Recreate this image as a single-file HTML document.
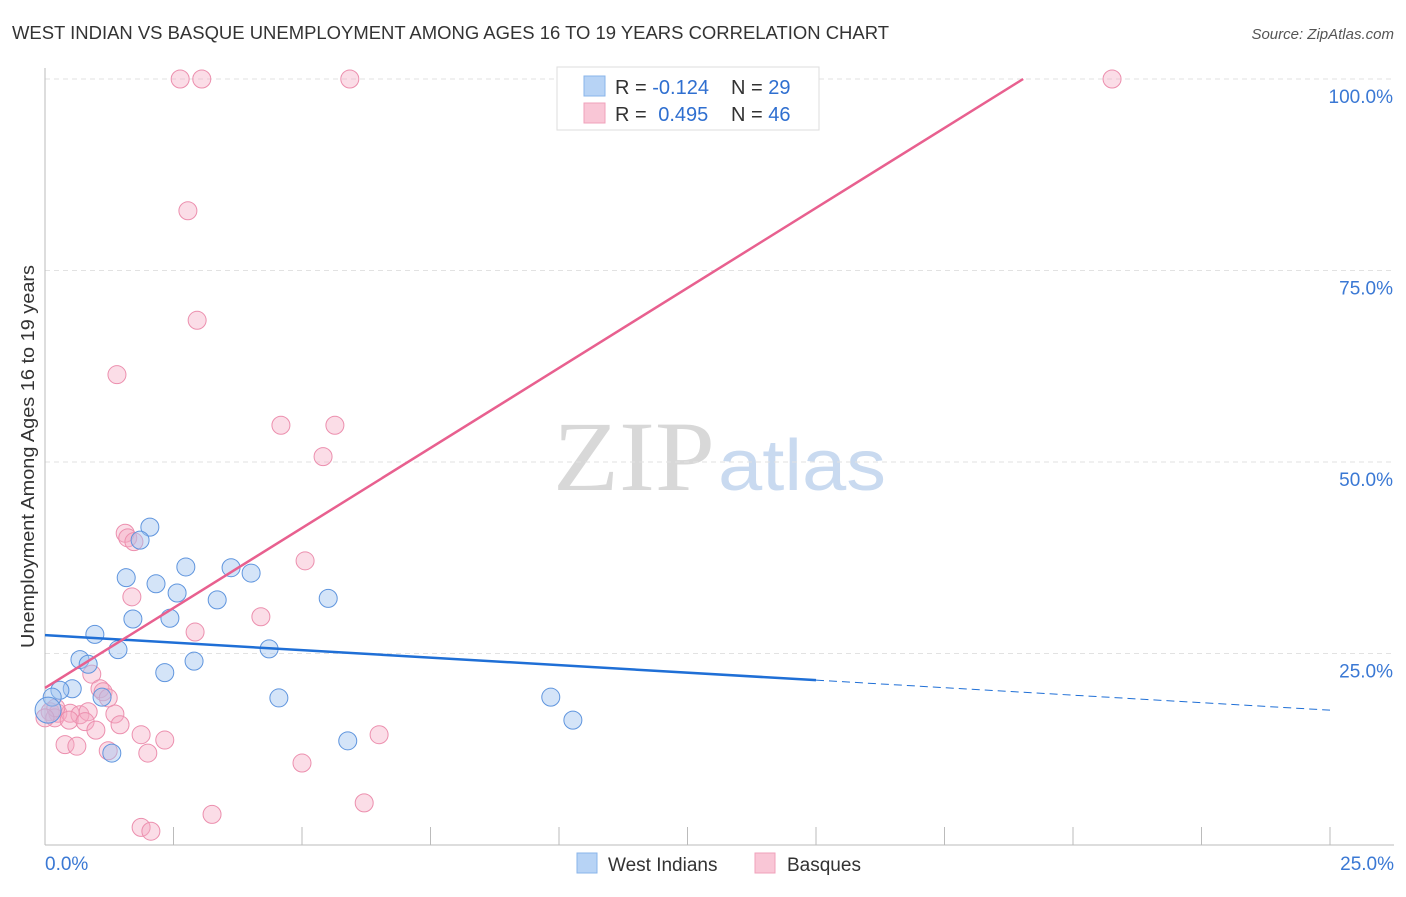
<!DOCTYPE html>
<html><head><meta charset="utf-8"><style>
body{margin:0;background:#fff;font-family:"Liberation Sans",sans-serif;}
</style></head><body>
<svg id="chart" width="1406" height="892" xmlns="http://www.w3.org/2000/svg">
<text x="12" y="39" font-size="18" fill="#333" textLength="877" lengthAdjust="spacingAndGlyphs">WEST INDIAN VS BASQUE UNEMPLOYMENT AMONG AGES 16 TO 19 YEARS CORRELATION CHART</text>
<text x="1394" y="39" font-size="15" fill="#555" font-style="italic" text-anchor="end">Source: ZipAtlas.com</text>
<text transform="translate(34,648) rotate(-90)" font-size="18" fill="#333" textLength="383" lengthAdjust="spacingAndGlyphs">Unemployment Among Ages 16 to 19 years</text>
<g>
<text x="553" y="490" font-family="Liberation Serif,serif" font-size="100" fill="#d8d8d8" textLength="162" lengthAdjust="spacingAndGlyphs">ZIP</text>
<text x="718" y="490" font-size="72" fill="#c9daf0" textLength="168" lengthAdjust="spacingAndGlyphs">atlas</text>
</g>
<g id="grid"></g>
<g id="axes"></g>
<g id="marks"></g>
<g>
<rect x="557" y="67" width="262" height="63" fill="#fff" stroke="#ddd"/>
<rect x="584" y="76" width="21" height="20" fill="#b7d3f5" stroke="#8ab4ea"/>
<rect x="584" y="103" width="21" height="20" fill="#f9c6d6" stroke="#f0a1bb"/>
<text x="615" y="94" font-size="20" fill="#333">R = <tspan fill="#2f6fd0">-0.124</tspan></text>
<text x="731" y="94" font-size="20" fill="#333">N = <tspan fill="#2f6fd0">29</tspan></text>
<text x="615" y="121" font-size="20" fill="#333">R = <tspan fill="#2f6fd0" dx="6">0.495</tspan></text>
<text x="731" y="121" font-size="20" fill="#333">N = <tspan fill="#2f6fd0">46</tspan></text>
</g>
<g>
<rect x="577" y="853" width="20" height="20" fill="#b7d3f5" stroke="#8ab4ea"/>
<text x="608" y="871" font-size="19" fill="#333">West Indians</text>
<rect x="755" y="853" width="20" height="20" fill="#f9c6d6" stroke="#f0a1bb"/>
<text x="787" y="871" font-size="19" fill="#333">Basques</text>
</g>
</svg>
<script>
const yTicks=[25,50,75,100];
const yTickLabels=["25.0%","50.0%","75.0%","100.0%"];
const xTickLabels=["0.0%","25.0%"];
const blueX=[2.04,1.85,1.58,2.74,2.16,3.62,4.01,2.57,3.35,5.51,1.71,2.43,0.97,1.42,4.36,0.68,0.84,2.90,2.33,0.53,0.29,1.11,0.14,4.55,9.84,10.27,5.89,1.30,0.06];
const blueY=[41.5,39.8,34.9,36.3,34.1,36.2,35.5,32.9,32.0,32.2,29.5,29.6,27.5,25.5,25.6,24.2,23.6,24.0,22.5,20.4,20.2,19.3,19.3,19.2,19.3,16.3,13.6,12.0,17.6];
const pinkX=[2.63,3.05,5.93,20.76,2.78,2.96,1.40,4.59,5.64,5.41,1.56,1.61,1.73,5.06,1.69,4.20,2.92,0.91,1.07,1.13,1.23,0.10,0.25,0.19,0.49,0.68,0.84,0.47,0.78,0.99,1.36,1.46,0.39,0.62,1.23,1.87,2.00,2.33,6.50,5.00,3.25,1.87,2.06,6.21,0.21,0.0];
const pinkY=[100,100,100,100,82.8,68.5,61.4,54.8,54.8,50.7,40.7,40.1,39.6,37.1,32.4,29.8,27.8,22.3,20.4,20.0,19.2,17.4,17.2,16.6,17.2,17.0,17.4,16.3,16.1,15.0,17.1,15.7,13.1,12.9,12.3,14.4,12.0,13.7,14.4,10.7,4.0,2.3,1.8,5.5,17.9,16.6];
const blueTrend=[27.4,17.6];
const pinkTrend=[20.5,100];
const pinkTrendEndX=19.03;
const blueSolidEndX=15;

const NS="http://www.w3.org/2000/svg";
const X=v=>45+v/25*1285;
const Y=v=>845-v/100*766;
function mk(tag,attrs,parent){const e=document.createElementNS(NS,tag);for(const k in attrs)e.setAttribute(k,attrs[k]);parent.appendChild(e);return e;}
const grid=document.getElementById('grid'),axes=document.getElementById('axes'),marks=document.getElementById('marks');

yTicks.forEach((t,i)=>{
  const l=mk('line',{x1:45,x2:1394,y1:Y(t),y2:Y(t),stroke:'#e2e2e2','stroke-dasharray':'5,4'},grid);
  
  
  const tx=mk('text',{x:1393,y:Y(t)+24,'font-size':19,fill:'#3a78d4','text-anchor':'end'},axes);
  tx.textContent=yTickLabels[i];
  
  
});
const ax=mk('line',{x1:45,x2:1394,y1:845,y2:845,stroke:'#bbb'},axes);


const ay=mk('line',{x1:45,x2:45,y1:68,y2:845,stroke:'#bbb'},axes);


for(let i=1;i<=10;i++){
  const tk=mk('line',{x1:X(i*2.5),x2:X(i*2.5),y1:827,y2:845,stroke:'#bbb'},axes);
  
  
}
[[0,'start',45],[1,'end',1394]].forEach(([i,a,x])=>{
  const tx=mk('text',{x:x,y:870,'font-size':19,fill:'#3a78d4','text-anchor':a},axes);
  tx.textContent=xTickLabels[i];
  
  
});

pinkX.forEach((x,i)=>{
  const c=mk('circle',{cx:X(x),cy:Y(pinkY[i]),r:9,fill:'rgba(246,170,196,0.4)',stroke:'#ec8fae','stroke-width':1},marks);
  
  
});
blueX.forEach((x,i)=>{
  const c=mk('circle',{cx:X(x),cy:Y(blueY[i]),r:i==blueX.length-1?13:9,fill:'rgba(160,196,240,0.45)',stroke:'#5f95de','stroke-width':1},marks);
  
  
});
const bAt=x=>blueTrend[0]+(blueTrend[1]-blueTrend[0])*x/25;
const bl=mk('line',{x1:X(0),y1:Y(bAt(0)),x2:X(blueSolidEndX),y2:Y(bAt(blueSolidEndX)),stroke:'#1f6fd6','stroke-width':2.5},marks);


const bd=mk('line',{x1:X(blueSolidEndX),y1:Y(bAt(blueSolidEndX)),x2:X(25),y2:Y(bAt(25)),stroke:'#1f6fd6','stroke-width':1,'stroke-dasharray':'8,5'},marks);


const pl=mk('line',{x1:X(0),y1:Y(pinkTrend[0]),x2:X(pinkTrendEndX),y2:Y(pinkTrend[1]),stroke:'#e8608f','stroke-width':2.5},marks);


</script>
</body></html>
